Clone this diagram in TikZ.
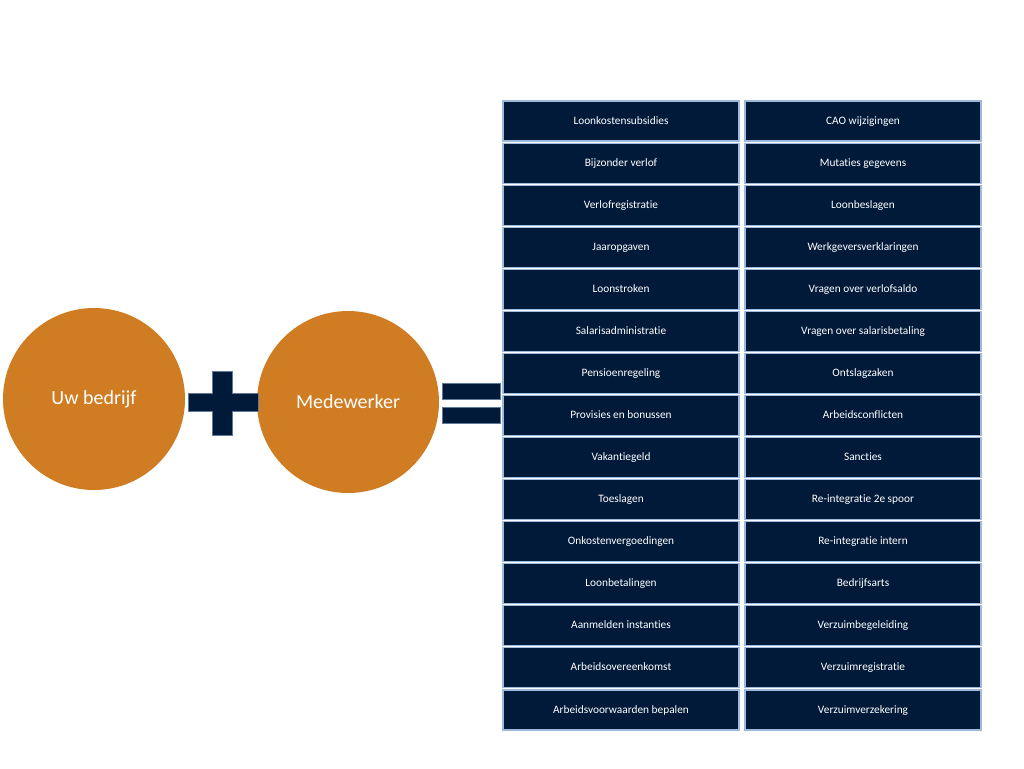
\documentclass[tikz,border=0pt]{standalone}
\usepackage{fontspec}
\setmainfont[Ligatures={NoCommon}]{Carlito}
\definecolor{orng}{HTML}{D07C22}
\definecolor{navy}{HTML}{021A3A}
\definecolor{edge}{HTML}{9DB9DC}
\begin{document}
\begin{tikzpicture}[x=0.75pt,y=-0.75pt,
  circ/.style={circle,fill=orng,inner sep=0pt,text=white,font=\fontsize{15}{17}\selectfont},
  cell/.style={rectangle,fill=navy,draw=edge,line width=0.8pt,minimum width=177pt,minimum height=30pt,inner sep=0pt,text height=6.2pt,text depth=1.6pt,text=white,font=\fontsize{8.5}{10}\selectfont},
  sym/.style={fill=navy,draw=edge!60!navy,line width=0.4pt}]
\useasboundingbox (0,0) rectangle (1024,768);
\node[circ,minimum size=136.5pt] (c1) at (94,399) {Uw bedrijf};
\node[circ,minimum size=136.5pt] (c2) at (348,402) {Medewerker};
% plus
\path[sym] (188,393) -- (212,393) -- (212,371) -- (232,371) -- (232,393) -- (258,393) -- (258,411) -- (232,411) -- (232,435) -- (212,435) -- (212,411) -- (188,411) -- cycle;
% equals
\path[sym] (442,383) rectangle (500,399);
\path[sym] (442,407) rectangle (500,423);
\foreach \t [count=\i from 0] in {Loonkostensubsidies,Bijzonder verlof,Verlofregistratie,Jaaropgaven,Loonstroken,Salarisadministratie,Pensioenregeling,Provisies en bonussen,Vakantiegeld,Toeslagen,Onkostenvergoedingen,Loonbetalingen,Aanmelden instanties,Arbeidsovereenkomst,Arbeidsvoorwaarden bepalen}
  \node[cell] (l\i) at (621,{121+42.07*\i}) {\t};
\foreach \t [count=\i from 0] in {CAO wijzigingen,Mutaties gegevens,Loonbeslagen,Werkgeversverklaringen,Vragen over verlofsaldo,Vragen over salarisbetaling,Ontslagzaken,Arbeidsconflicten,Sancties,Re-integratie 2e spoor,Re-integratie intern,Bedrijfsarts,Verzuimbegeleiding,Verzuimregistratie,Verzuimverzekering}
  \node[cell] (r\i) at (863,{121+42.07*\i}) {\t};
\end{tikzpicture}
\end{document}
